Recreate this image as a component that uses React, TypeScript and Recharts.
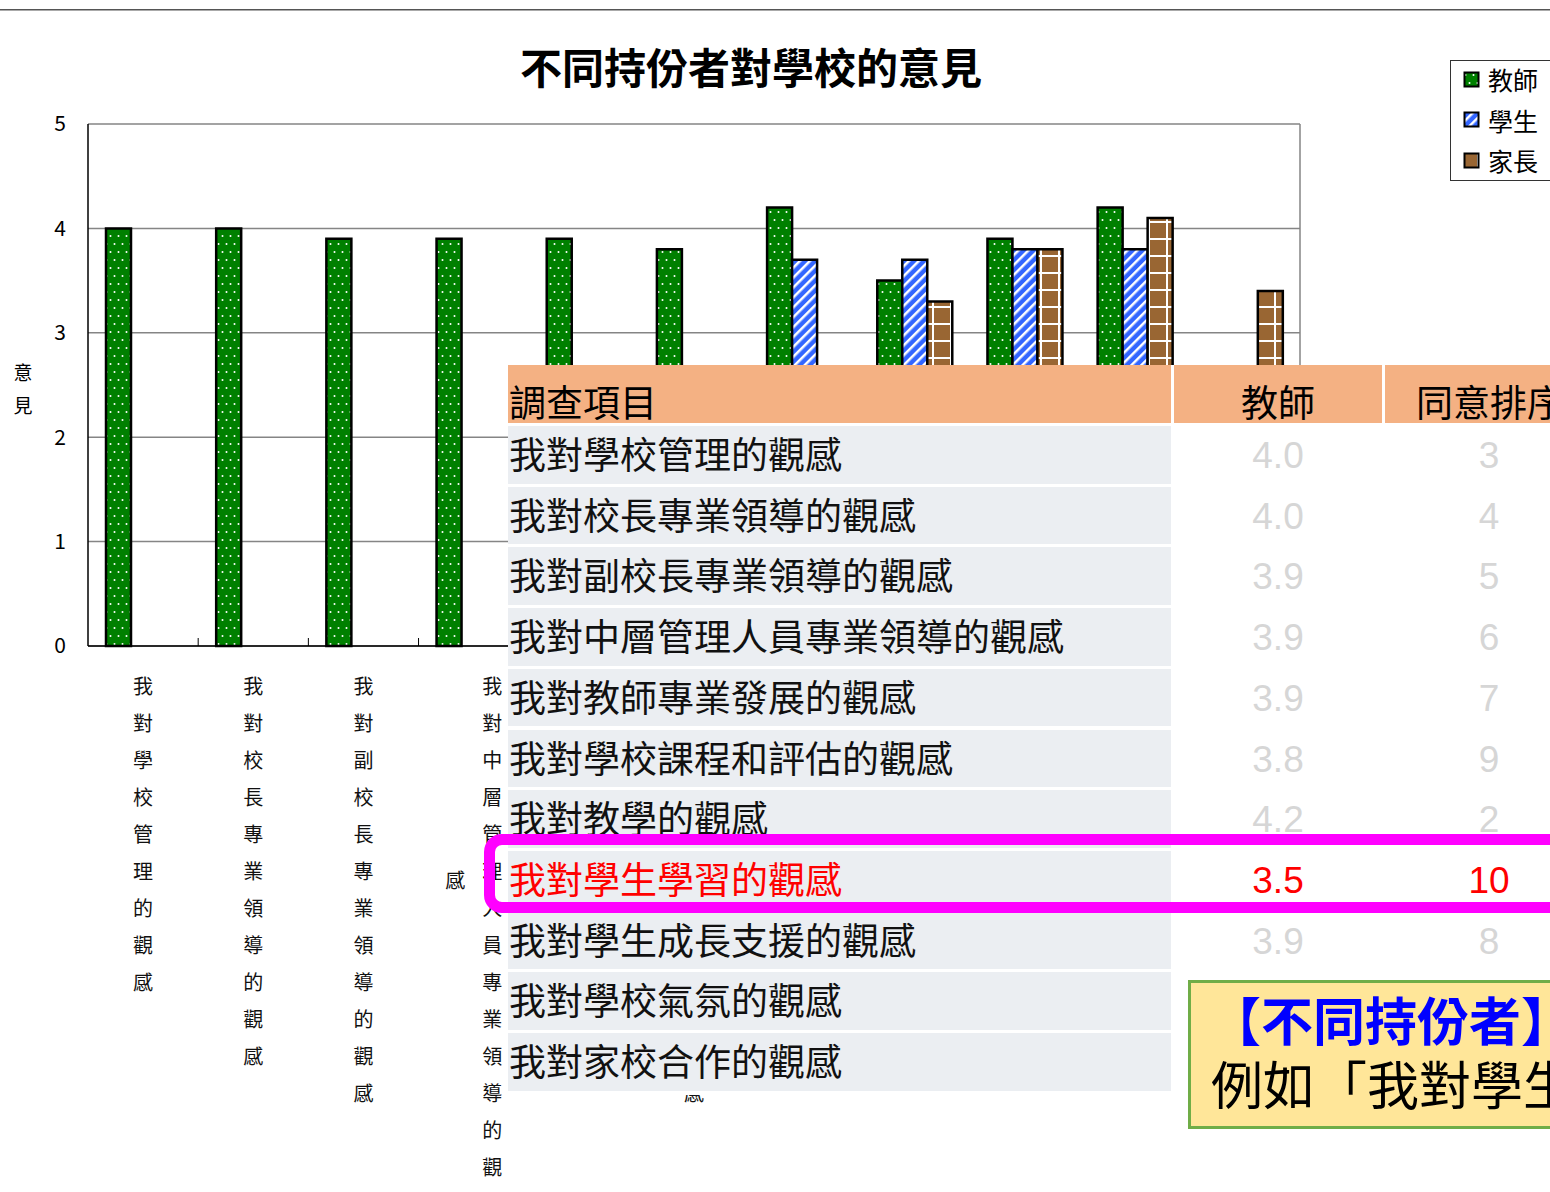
import { Bar, BarChart, CartesianGrid, XAxis, YAxis } from "recharts";

const CATEGORIES = [
  "我對學校管理的觀感",
  "我對校長專業領導的觀感",
  "我對副校長專業領導的觀感",
  "我對中層管理人員專業領導的觀感",
  "我對教師專業發展的觀感",
  "我對學校課程和評估的觀感",
  "我對教學的觀感",
  "我對學生學習的觀感",
  "我對學生成長支援的觀感",
  "我對學校氣氛的觀感",
  "我對家校合作的觀感",
];
const TEACHER = [4.0, 4.0, 3.9, 3.9, 3.9, 3.8, 4.2, 3.5, 3.9, 4.2, null];
const STUDENT = [null, null, null, null, null, null, 3.7, 3.7, 3.8, 3.8, null];
const PARENT = [null, null, null, null, null, null, null, 3.3, 3.8, 4.1, 3.4];
const RANKS = [3, 4, 5, 6, 7, 9, 2, 10, 8, 1, 11];
const Y_TICKS = [0, 1, 2, 3, 4, 5];
const HIGHLIGHT_ROW = 7;

const SERIES = [
  { key: "teacher", name: "教師", fill: "url(#patTeacher)" },
  { key: "student", name: "學生", fill: "url(#patStudent)" },
  { key: "parent", name: "家長", fill: "url(#patParent)" },
];

const FONT = '"Noto Sans CJK TC", "Noto Sans", sans-serif';

const data = CATEGORIES.map((name, i) => ({
  name,
  teacher: TEACHER[i],
  student: STUDENT[i],
  parent: PARENT[i],
}));

// vertical (stacked) category labels, wrapping into a second column when too long
function VerticalTick(props: any) {
  const { x, y, payload, width, index } = props;
  const chars = Array.from(String(payload.value));
  const maxPerCol = 14;
  const pitch = 37;
  const step = width / CATEGORIES.length;
  const cols = chars.length > maxPerCol ? [chars.slice(0, maxPerCol), chars.slice(maxPerCol)] : [chars];
  return (
    <g>
      {index < CATEGORIES.length - 1 && (
        <line x1={x + step / 2} x2={x + step / 2} y1={y - 8} y2={y} stroke="#000" strokeWidth={1} />
      )}
      {cols.map((col, c) => {
        const cx = cols.length > 1 ? x + (c === 0 ? 18.5 : -18.5) : x;
        const start = c === 0 ? y + 41 : y + 41 + pitch * 5.25;
        return col.map((ch, k) => (
          <text
            key={`${c}-${k}`}
            x={cx}
            y={start + k * pitch}
            dy="0.35em"
            textAnchor="middle"
            fontSize={20}
            fill="#111"
          >
            {ch}
          </text>
        ));
      })}
    </g>
  );
}

function Swatch({ fill }: { fill: string }) {
  return (
    <svg width={17} height={17} style={{ display: "block" }}>
      <rect x={1.5} y={1.5} width={14} height={14} fill={fill} stroke="#000" strokeWidth={2} />
    </svg>
  );
}

const ROW_TOP = 426;
const ROW_PITCH = 60.7;
const ROW_H = 57.6;

export default function App() {
  return (
    <div
      style={{
        position: "absolute",
        left: 0,
        top: 0,
        width: 1550,
        height: 1192,
        overflow: "hidden",
        background: "#fff",
        fontFamily: FONT,
      }}
    >
      {/* top rule */}
      <div style={{ position: "absolute", left: 0, top: 9, width: 1550, height: 1, background: "#555" }} />
      <div style={{ position: "absolute", left: 0, top: 10, width: 1550, height: 1, background: "#aaa" }} />

      <div style={{ position: "absolute", left: 0, top: 0 }}>
        <BarChart
          width={1550}
          height={1192}
          data={data}
          margin={{ top: 124, right: 250, bottom: 6, left: 28 }}
          barGap={0}
          barSize={25}
        >
          <defs>
            <pattern id="patTeacher" patternUnits="userSpaceOnUse" width={8} height={16}>
              <rect width={8} height={16} fill="#008000" />
              <circle cx={2.5} cy={4} r={1} fill="#fff" />
              <circle cx={6.5} cy={12} r={1} fill="#fff" />
            </pattern>
            <pattern
              id="patStudent"
              patternUnits="userSpaceOnUse"
              width={7}
              height={7}
              patternTransform="rotate(45)"
            >
              <rect width={7} height={7} fill="#3366FF" />
              <rect width={2.5} height={7} fill="#fff" />
            </pattern>
            <pattern id="patParent" patternUnits="userSpaceOnUse" width={18} height={17}>
              <rect width={18} height={17} fill="#996633" />
              <rect width={18} height={2} fill="#fff" />
              <rect x={14} width={2} height={17} fill="#fff" />
            </pattern>
          </defs>
          <CartesianGrid
            stroke="#858585"
            strokeWidth={1.5}
            verticalCoordinatesGenerator={({ offset }: any) => [offset.left + offset.width]}
          />
          <XAxis
            dataKey="name"
            height={540}
            interval={0}
            tickSize={0}
            tickMargin={0}
            tickLine={false}
            axisLine={{ stroke: "#000", strokeWidth: 1.5 }}
            tick={<VerticalTick />}
          />
          <YAxis
            width={60}
            domain={[0, 5]}
            ticks={Y_TICKS}
            tickLine={false}
            tickMargin={16}
            axisLine={{ stroke: "#000", strokeWidth: 1.5 }}
            tick={{ fontSize: 21, fill: "#000" }}
          />
          {SERIES.map((s) => (
            <Bar
              key={s.key}
              dataKey={s.key}
              name={s.name}
              fill={s.fill}
              stroke="#000"
              strokeWidth={2.5}
              isAnimationActive={false}
            />
          ))}
        </BarChart>
      </div>

      {/* title */}
      <div
        style={{
          position: "absolute",
          left: 0,
          width: 1502,
          top: 36,
          textAlign: "center",
          fontSize: 42,
          fontWeight: 700,
          lineHeight: "60px",
          color: "#000",
        }}
      >
        不同持份者對學校的意見
      </div>

      {/* y axis title */}
      <div
        style={{
          position: "absolute",
          left: 12,
          top: 355,
          width: 22,
          fontSize: 19,
          lineHeight: "33px",
          textAlign: "center",
          color: "#000",
        }}
      >
        意<br />見
      </div>

      {/* legend */}
      <div
        style={{
          position: "absolute",
          left: 1450,
          top: 60,
          width: 130,
          height: 121,
          border: "1px solid #333",
          background: "#fff",
          boxSizing: "border-box",
        }}
      >
        {SERIES.map((s, i) => (
          <div
            key={s.key}
            style={{
              position: "absolute",
              left: 12,
              top: 0 + i * 40.5,
              height: 36,
              display: "flex",
              alignItems: "center",
              fontSize: 25,
              whiteSpace: "nowrap",
            }}
          >
            <Swatch fill={s.fill} />
            <span style={{ marginLeft: 8 }}>{s.name}</span>
          </div>
        ))}
      </div>

      {/* overlaid table */}
      <div style={{ position: "absolute", left: 508, top: 365, width: 1100, height: 730, background: "#fff" }} />
      <div
        style={{
          position: "absolute",
          left: 508,
          top: 365,
          width: 663,
          height: 58,
          background: "#F4B183",
          fontSize: 37,
          lineHeight: "72px",
          paddingLeft: 1,
          boxSizing: "border-box",
          whiteSpace: "nowrap",
        }}
      >
        調查項目
      </div>
      <div
        style={{
          position: "absolute",
          left: 1174,
          top: 365,
          width: 208,
          height: 58,
          background: "#F4B183",
          fontSize: 37,
          lineHeight: "72px",
          textAlign: "center",
        }}
      >
        教師
      </div>
      <div
        style={{
          position: "absolute",
          left: 1385,
          top: 365,
          width: 220,
          height: 58,
          background: "#F4B183",
          fontSize: 37,
          lineHeight: "72px",
          paddingLeft: 31,
          boxSizing: "border-box",
          whiteSpace: "nowrap",
        }}
      >
        同意排序
      </div>
      {CATEGORIES.map((name, i) => {
        const top = ROW_TOP + i * ROW_PITCH;
        const hi = i === HIGHLIGHT_ROW;
        const v = TEACHER[i];
        return (
          <div key={name}>
            <div
              style={{
                position: "absolute",
                left: 508,
                top,
                width: 663,
                height: ROW_H,
                background: "#EBEEF2",
                fontSize: 37,
                lineHeight: `${ROW_H - 2}px`,
                paddingLeft: 1,
                boxSizing: "border-box",
                whiteSpace: "nowrap",
                color: hi ? "#FF0000" : "#111",
              }}
            >
              {name}
            </div>
            <div
              style={{
                position: "absolute",
                left: 1174,
                top: top + 1,
                width: 208,
                height: ROW_H,
                fontFamily: '"Liberation Sans", Arial, sans-serif',
                fontSize: 37,
                lineHeight: `${ROW_H}px`,
                textAlign: "center",
                color: hi ? "#FF0000" : "#D6D6D6",
              }}
            >
              {v == null ? "" : v.toFixed(1)}
            </div>
            <div
              style={{
                position: "absolute",
                left: 1385,
                top: top + 1,
                width: 208,
                height: ROW_H,
                fontFamily: '"Liberation Sans", Arial, sans-serif',
                fontSize: 37,
                lineHeight: `${ROW_H}px`,
                textAlign: "center",
                color: hi ? "#FF0000" : "#D6D6D6",
              }}
            >
              {RANKS[i]}
            </div>
          </div>
        );
      })}

      {/* highlight frame */}
      <div
        style={{
          position: "absolute",
          left: 484,
          top: 834,
          width: 1200,
          height: 79,
          border: "11px solid #FF00FF",
          borderRadius: 18,
          boxSizing: "border-box",
        }}
      />

      {/* callout */}
      <div
        style={{
          position: "absolute",
          left: 1188,
          top: 980,
          width: 500,
          height: 149,
          background: "#FFE699",
          border: "3px solid #70AD47",
          boxSizing: "border-box",
          whiteSpace: "nowrap",
          overflow: "hidden",
        }}
      >
        <div style={{ position: "absolute", left: 18, top: 4, fontSize: 52, fontWeight: 700, color: "#0000FF", lineHeight: "64px" }}>
          【不同持份者】的意見
        </div>
        <div style={{ position: "absolute", left: 20, top: 68, fontSize: 52, color: "#000", lineHeight: "64px" }}>
          例如「我對學生學習的觀感」
        </div>
      </div>
    </div>
  );
}
